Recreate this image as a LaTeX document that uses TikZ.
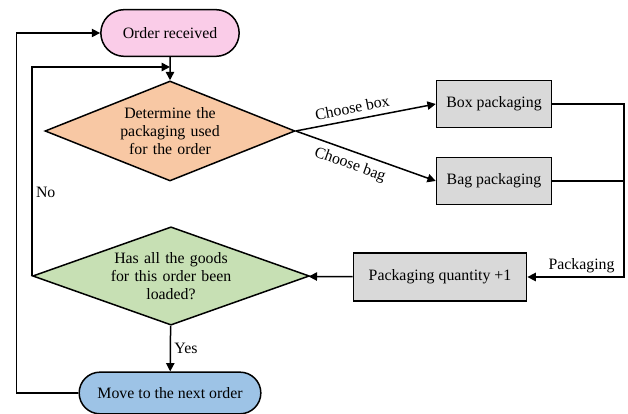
\documentclass[tikz,border=0pt]{standalone}
\usepackage{fontspec}
\setmainfont{Liberation Serif}
\usetikzlibrary{arrows.meta}
\usetikzlibrary{shapes,calc}

\definecolor{startpink}{RGB}{250,204,232}
\definecolor{decorange}{RGB}{248,200,164}
\definecolor{decgreen}{RGB}{199,224,180}
\definecolor{endblue}{RGB}{157,195,230}
\definecolor{boxgray}{RGB}{217,217,217}

\begin{document}
\begin{tikzpicture}[x=0.6pt, y=-0.6pt, -{Triangle[length=5pt,width=5pt]}, line width=0.9pt]
\tikzset{
  flownode/.style = {shape=rectangle, draw, anchor=center,
                     align=center, font=\fontsize{9.5}{11}\selectfont,
                     inner sep=2pt},
  terminal/.style = {flownode, rounded rectangle},
  decision/.style = {flownode, diamond, inner sep=0pt},
  process/.style  = {flownode, fill=boxgray},
  label/.style    = {font=\fontsize{9.5}{11.5}\selectfont, inner sep=2pt},
  choice/.style   = {label, sloped, inner sep=3.5pt}
}
\useasboundingbox (0,0) rectangle (628,414);
  \node[terminal, fill=startpink, minimum width=87pt, minimum height=28pt]
    (received) at (170,33) {Order received};
  \node[decision, fill=decorange, text width=62pt, aspect=2.5,
        minimum width=150pt, minimum height=60pt]
    (determine) at (170,131) {Determine the\\packaging used\\for the order};
  \node[process, minimum width=69pt, minimum height=28pt]
    (box) at (494,104) {Box packaging};
  \node[process, minimum width=69pt, minimum height=28pt]
    (bag) at (494,181) {Bag packaging};
  \node[process, minimum width=104pt, minimum height=29pt]
    (quantity) at (440,277) {Packaging quantity +1};
  \node[decision, fill=decgreen, text width=76pt, aspect=2.7,
        minimum width=166pt, minimum height=59pt]
    (check) at (171,276) {Has all the goods\\for this order been\\loaded?};
  \node[terminal, fill=endblue, minimum width=113pt, minimum height=25pt]
    (next) at (170,393) {Move to the next order};
  \coordinate (merge) at (624,181);
  \coordinate (loopin) at (170,67);
  % main flow
  \draw (received) -- (determine);
  \draw (determine.east) -- (box.west)
    node[pos=0.42, above, choice] {Choose box};
  \draw (determine.east) -- (bag.west)
    node[pos=0.42, below, choice] {Choose bag};
  \draw (box.east) -| (merge) |- (quantity.east)
    node[pos=0.72, above, label] {Packaging};
  \draw[-] (bag.east) -- (merge);
  \draw (quantity) -- (check);
  \draw (check) -- (next) node[midway, right, label] {Yes};
  % loops back
  \draw (check.west) |- (loopin)
    node[pos=0.2, right, label] {No};
  \draw (next.west) -- ++(-62,0) |- (received.west);
\end{tikzpicture}
\end{document}
